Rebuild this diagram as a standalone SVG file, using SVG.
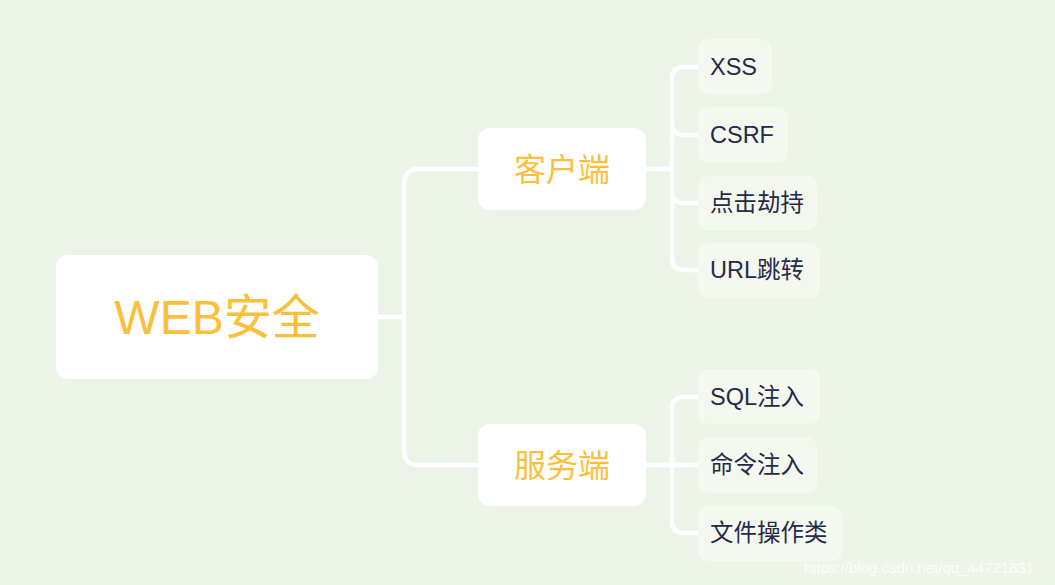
<svg xmlns="http://www.w3.org/2000/svg" width="1055" height="585" viewBox="0 0 1055 585">
<style>
.bg{fill:#ECF4E8}
.main{fill:#FFFFFF}
.leaf{fill:#F4F8EF}
.conn{fill:none;stroke:#FFFFFF;stroke-width:4.5;stroke-linecap:round;stroke-linejoin:round}
.t1{font-family:"Liberation Sans","Noto Sans CJK SC",sans-serif;fill:#FBBF3C}
.t2{font-family:"Liberation Sans","Noto Sans CJK SC",sans-serif;font-size:23.5px;fill:#262A4A}
.wm{font-family:"Liberation Sans",sans-serif;font-size:15px;fill:#FFFFFF;opacity:0.8}
</style>
<rect class="bg" x="0" y="0" width="1055" height="585"/>
<g id="connectors">
<path class="conn" d="M378,317 H404 M478,169 H419 Q404,169 404,184 V450 Q404,465 419,465 H478"/>
<path class="conn" d="M646,169 H672 M698,67 H684 Q672,67 672,79 V258 Q672,270 684,270 H698 M672,123 Q672,135 684,135 H698 M672,191 Q672,203 684,203 H698"/>
<path class="conn" d="M646,465 H698 M698,397 H684 Q672,397 672,409 V521 Q672,533 684,533 H698"/>
</g>
<g id="root">
<rect class="main" x="56" y="255" width="322" height="124" rx="12"/>
<text class="t1" x="217" y="334" font-size="48" text-anchor="middle">WEB安全</text>
</g>
<g id="client">
<rect class="main" x="478" y="128" width="168" height="82" rx="12"/>
<text class="t1" x="562" y="181" font-size="32" text-anchor="middle">客户端</text>
</g>
<g id="server">
<rect class="main" x="478" y="424" width="168" height="82" rx="12"/>
<text class="t1" x="562" y="477" font-size="32" text-anchor="middle">服务端</text>
</g>
<g id="xss">
<rect class="leaf" x="698" y="39" width="74" height="55" rx="10"/>
<text class="t2" x="710" y="75">XSS</text>
</g>
<g id="csrf">
<rect class="leaf" x="698" y="107" width="90" height="56" rx="10"/>
<text class="t2" x="710" y="143">CSRF</text>
</g>
<g id="clickjack">
<rect class="leaf" x="698" y="176" width="119" height="55" rx="10"/>
<text class="t2" x="710" y="211">点击劫持</text>
</g>
<g id="urlredirect">
<rect class="leaf" x="698" y="243" width="122" height="55" rx="10"/>
<text class="t2" x="710" y="278">URL跳转</text>
</g>
<g id="sqli">
<rect class="leaf" x="698" y="369" width="122" height="55" rx="10"/>
<text class="t2" x="710" y="405">SQL注入</text>
</g>
<g id="cmdi">
<rect class="leaf" x="698" y="437" width="119" height="56" rx="10"/>
<text class="t2" x="710" y="473">命令注入</text>
</g>
<g id="fileop">
<rect class="leaf" x="698" y="506" width="144" height="55" rx="10"/>
<text class="t2" x="710" y="541">文件操作类</text>
</g>
<text class="wm" x="804" y="573">https://blog.csdn.net/qq_44721831</text>
</svg>
